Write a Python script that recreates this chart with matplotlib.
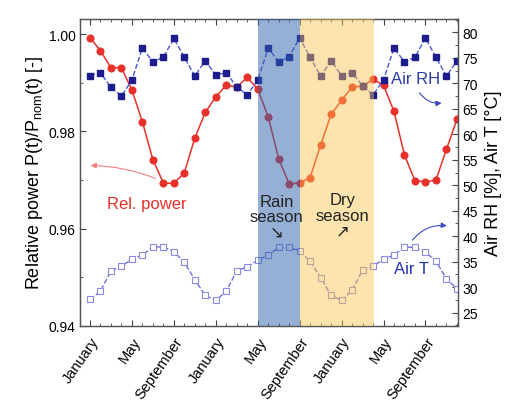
import matplotlib
matplotlib.use('Agg')
import matplotlib.pyplot as plt
from matplotlib.ticker import MultipleLocator

plt.rcParams['font.family'] = ['Liberation Sans', 'DejaVu Sans']

# months since the first January
months = list(range(36))
tick_months = [0, 4, 8, 12, 16, 20, 24, 28, 32]
tick_labels = ['January', 'May', 'September'] * 3

rel_power = [0.9993, 0.9966, 0.9931, 0.9931, 0.9885, 0.9820, 0.9742, 0.9694,
             0.9693, 0.9715, 0.9786, 0.9839, 0.9871, 0.9895, 0.9891, 0.9911,
             0.9887, 0.9830, 0.9744, 0.9692, 0.9694, 0.9705, 0.9772, 0.9835,
             0.9864, 0.9891, 0.9893, 0.9907, 0.9895, 0.9841, 0.9751, 0.9699,
             0.9696, 0.9700, 0.9763, 0.9825]

air_rh = [71.5, 72.1, 69.2, 67.5, 70.6, 76.9, 74.2, 75.1, 78.8, 75.1, 71.4, 74.4,
          71.6, 72.1, 69.3, 67.7, 70.6, 76.9, 74.2, 75.2, 78.9, 75.1, 71.4, 74.4,
          71.5, 72.1, 69.5, 67.7, 70.7, 76.9, 74.2, 75.1, 78.9, 75.1, 71.4, 74.4]

air_t = [27.6, 29.2, 33.2, 34.1, 35.5, 36.3, 37.9, 37.9, 37.0, 34.9, 31.5, 28.4,
         27.4, 29.2, 33.2, 34.0, 35.3, 36.3, 37.8, 37.8, 37.1, 35.1, 31.9, 28.4,
         27.4, 29.4, 33.3, 34.1, 35.5, 36.3, 37.9, 37.8, 36.9, 35.1, 31.7, 29.7]

rain_season = (16, 20)
dry_season = (20, 27.1)

fig = plt.figure(figsize=(5.14, 4.06), dpi=100)
ax = fig.add_axes([0.1556, 0.1946, 0.7354, 0.7561])
ax2 = ax.twinx()

# red relative power on the left axis
ax.plot(months, rel_power, '-o', color='#e8302a', lw=1.1, ms=4.8,
        mec='#e8302a', mfc='#e8302a')

# humidity and temperature on the right axis
ax2.plot(months, air_rh, '--s', color='#4a5ad0', lw=1.0, ms=4.3,
         mfc='#1c1c8c', mec='#1c1c8c')
ax2.plot(months, air_t, '--s', color='#7070d8', lw=1.0, ms=4.7,
         mfc='white', mec='#8a8ae0', mew=0.8)

# seasons, drawn over the data like the original
ax2.axvspan(*rain_season, color='#2f62ad', alpha=0.5, lw=0, zorder=5)
ax2.axvspan(*dry_season, color='#fbc24a', alpha=0.45, lw=0, zorder=5)

ax.set_xlim(-0.95, 35.1)
ax.set_ylim(0.94, 1.0031)
ax2.set_ylim(22.4, 82.6)

ax.set_xticks(tick_months)
ax.set_xticklabels(tick_labels, rotation=55, ha='right', va='top',
                   rotation_mode='anchor', fontsize=10.5)
ax.xaxis.set_minor_locator(MultipleLocator(1))
ax.set_yticks([0.94, 0.96, 0.98, 1.00])
ax.set_yticklabels(['0.94', '0.96', '0.98', '1.00'], fontsize=10)
ax.yaxis.set_minor_locator(MultipleLocator(0.01))
ax2.set_yticks(range(25, 85, 5))
ax2.yaxis.set_minor_locator(MultipleLocator(2.5))
ax2.tick_params(axis='y', labelsize=10)

for a in (ax, ax2):
    a.tick_params(which='both', direction='in', color='#444444')
    a.tick_params(which='major', length=4)
    a.tick_params(which='minor', length=2.5)
    for s in a.spines.values():
        s.set_color('#555555')
        s.set_linewidth(0.9)
ax.tick_params(axis='x', which='both', top=True, pad=6)
ax.tick_params(axis='y', pad=3)
ax2.tick_params(axis='y', pad=3)

ax.set_ylabel('Relative power P(t)/P$_\\mathregular{nom}$(t) [-]', fontsize=13,
              labelpad=3)
ax2.set_ylabel('Air RH [%], Air T [°C]', fontsize=13, labelpad=5)

# labels and arrows
ax.text(5.4, 0.9652, 'Rel. power', color='#e8302a', fontsize=12,
        ha='center', va='center')
ax.annotate('', xy=(-0.2, 0.9730), xytext=(6.5, 0.9701),
            arrowprops=dict(arrowstyle='-|>', color='#f08080', lw=0.8,
                            mutation_scale=8,
                            connectionstyle='arc3,rad=0.1'))

ax2.text(31.1, 70.9, 'Air RH', color='#2a3aa8', fontsize=12,
         ha='center', va='center', zorder=6)
ax2.annotate('', xy=(33.8, 66.2), xytext=(31.3, 68.6),
             arrowprops=dict(arrowstyle='-|>', color='#3a4ac0', lw=0.8,
                             mutation_scale=8,
                             connectionstyle='arc3,rad=0.35'))

ax2.text(30.7, 33.6, 'Air T', color='#2030b0', fontsize=12,
         ha='center', va='center', zorder=6)
ax2.annotate('', xy=(34.3, 42.0), xytext=(30.6, 38.8),
             arrowprops=dict(arrowstyle='-|>', color='#3a4ac0', lw=0.8,
                             mutation_scale=8,
                             connectionstyle='arc3,rad=-0.3'))

ax2.text(17.8, 43.8, 'Rain\nseason\n↘', color='#222222', fontsize=12,
         ha='center', va='center', linespacing=1.05, zorder=6)
ax2.text(24.1, 44.1, 'Dry\nseason\n↗', color='#222222', fontsize=12,
         ha='center', va='center', linespacing=1.05, zorder=6)

fig.savefig('out.png', dpi=100)
